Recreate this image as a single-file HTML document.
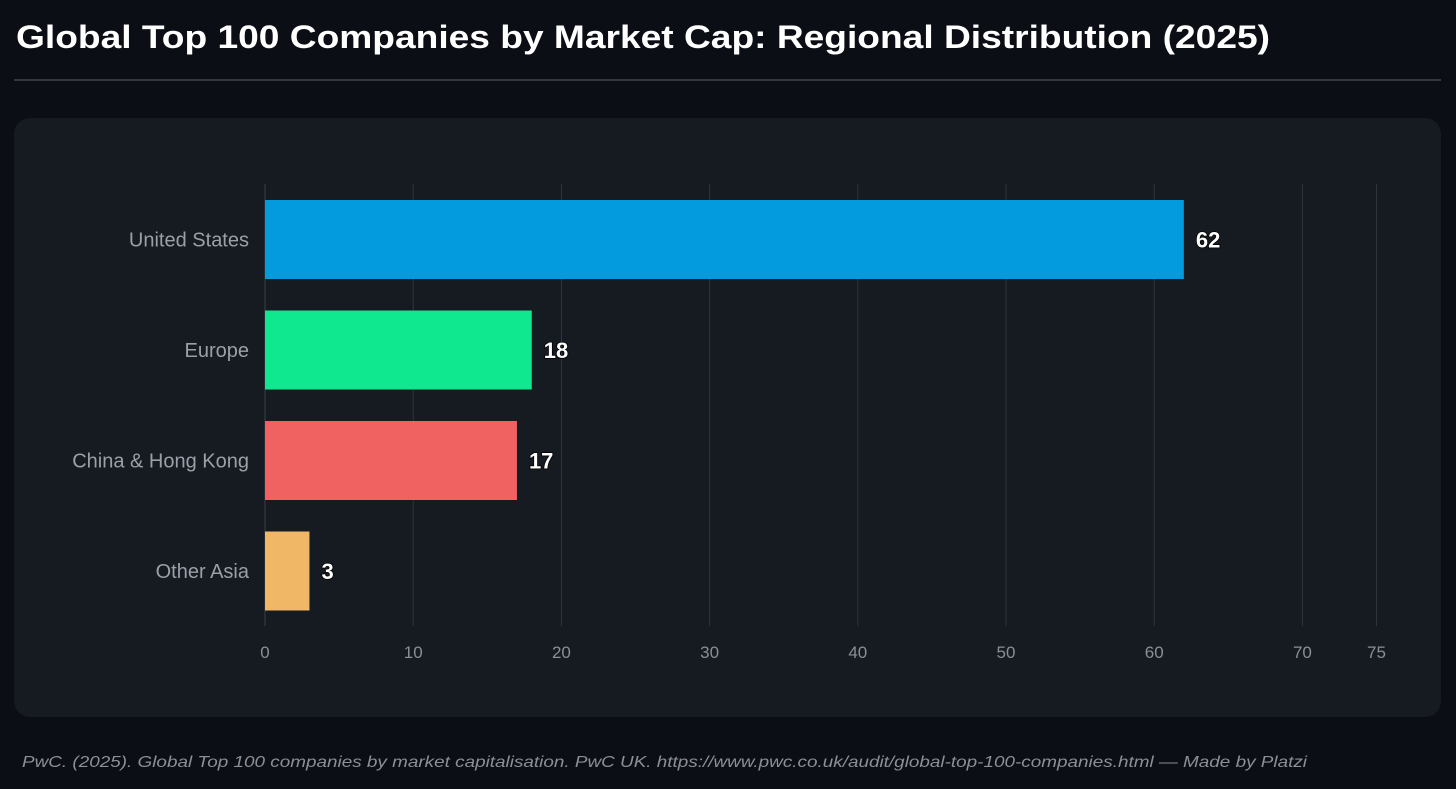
<!DOCTYPE html>
<html><head><meta charset="utf-8"><style>
html,body{margin:0;padding:0;background:#0b0e14;}
svg{display:block;font-family:"Liberation Sans",sans-serif;}
.val{font-weight:bold;font-size:22px;fill:#ffffff;stroke:#000;stroke-width:1.5px;paint-order:stroke;}
</style></head><body>
<svg width="1456" height="789" viewBox="0 0 1456 789">
<rect x="0" y="0" width="1456" height="789" fill="#0b0e14"/>
<text x="16" y="48" font-size="32" style="font-weight:bold" fill="#ffffff" textLength="1254" lengthAdjust="spacingAndGlyphs">Global Top 100 Companies by Market Cap: Regional Distribution (2025)</text>
<rect x="14" y="79" width="1427" height="2" fill="#33373e"/>
<rect x="14" y="118" width="1427" height="599" rx="16" fill="#161a21"/>
<g id="grid"></g>
<g id="bars"></g>
<text x="22" y="767" font-size="16" font-style="italic" fill="#8a8f98" textLength="1285" lengthAdjust="spacingAndGlyphs">PwC. (2025). Global Top 100 companies by market capitalisation. PwC UK. https://www.pwc.co.uk/audit/global-top-100-companies.html — Made by Platzi</text>
</svg>
<script>
const categories = ["United States","Europe","China & Hong Kong","Other Asia"];
const values = [62,18,17,3];
const colors = ["#049ade","#0fe88e","#f06262","#f0b866"];
const ticks = [0,10,20,30,40,50,60,70,75];
const NS="http://www.w3.org/2000/svg";
const x0=265, pxPerUnit=14.82;
function xs(v){return x0+v*pxPerUnit;}
const bandTop=184, band=110.5, barH=79;
function ys(i){return bandTop+i*band+16;}
function mk(tag,attrs,parent){const e=document.createElementNS(NS,tag);for(const k in attrs)e.setAttribute(k,attrs[k]);parent.appendChild(e);return e;}
const grid=document.getElementById('grid'), bars=document.getElementById('bars');
ticks.forEach(t=>{
  const l=mk('line',{x1:xs(t),x2:xs(t),y1:184,y2:626,stroke:t===0?'#3a3f47':'#30353d','stroke-width':1},grid);
  
  
  const tx=mk('text',{x:xs(t),y:658,'text-anchor':'middle','font-size':17,fill:'#8a8f98'},grid);
  tx.textContent=t;
  
  
});
categories.forEach((c,i)=>{
  const y=ys(i);
  const r=mk('rect',{x:xs(0),y:y,width:xs(values[i])-xs(0),height:barH,fill:colors[i]},bars);
  
  
  const lab=mk('text',{x:249,y:y+barH/2+7,'text-anchor':'end','font-size':20,fill:'#9aa0a8'},bars);
  lab.textContent=c;
  
  
  const v=mk('text',{x:xs(values[i])+12,y:y+barH/2+8,'class':'val'},bars);
  v.textContent=values[i];
  
  
});
</script>
</body></html>
